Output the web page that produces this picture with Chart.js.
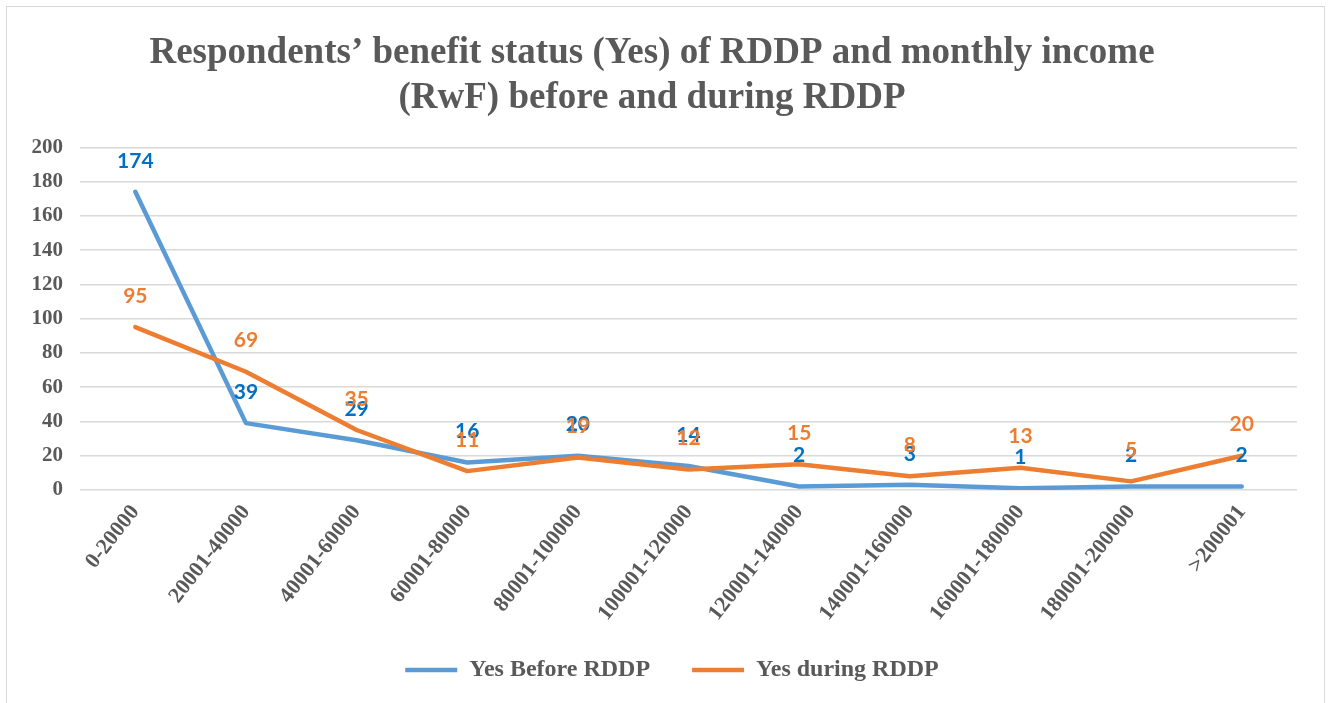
<!DOCTYPE html>
<html>
<head>
<meta charset="utf-8">
<script src="https://cdn.jsdelivr.net/npm/chart.js@4/dist/chart.umd.min.js"></script>
<style>
  html, body { margin: 0; padding: 0; background: #fff; }
  #box {
    position: absolute; left: 6px; top: 6px;
    width: 1319px; height: 703px;
    border: 1px solid #d9d9d9; box-sizing: border-box;
  }
</style>
</head>
<body>
<div id="box"><canvas id="incomeChart"></canvas></div>
<script>
// data
const incomeBands = ["0-20000", "20001-40000", "40001-60000", "60001-80000", "80001-100000",
  "100001-120000", "120001-140000", "140001-160000", "160001-180000", "180001-200000", ">200001"];
const yesBefore = [174, 39, 29, 16, 20, 14, 2, 3, 1, 2, 2];
const yesDuring = [95, 69, 35, 11, 19, 12, 15, 8, 13, 5, 20];
const yTicks = [0, 20, 40, 60, 80, 100, 120, 140, 160, 180, 200];

const grey = "#595959";
const serif = "'Liberation Serif', 'Times New Roman', serif";

// value labels above each point
const pointLabels = {
  id: "pointLabels",
  afterDatasetsDraw(chart) {
    const ctx = chart.ctx;
    ctx.save();
    ctx.font = "bold 21px Lato, 'Open Sans', sans-serif";
    ctx.textAlign = "center";
    ctx.textBaseline = "middle";
    [0, 1].forEach(i => {
      const meta = chart.getDatasetMeta(i);
      ctx.fillStyle = chart.data.datasets[i].labelColor;
      meta.data.forEach((pt, j) => {
        ctx.fillText(chart.data.datasets[i].data[j], pt.x, pt.y - 31);
      });
    });
    ctx.restore();
  }
};

// nudge the legend row to the right so it sits centred like the original
const legendShift = {
  id: "legendShift",
  afterLayout(chart) {
    if (chart.legend) {
      chart.legend.left += 20;
      chart.legend.right += 20;
    }
  }
};

const canvas = document.getElementById("incomeChart");
canvas.width = 1317; canvas.height = 701;

new Chart(canvas.getContext("2d"), {
  type: "line",
  data: {
    labels: incomeBands,
    datasets: [
      {
        label: "Yes Before RDDP  ",
        data: yesBefore,
        borderColor: "#5b9bd5",
        backgroundColor: "#5b9bd5",
        labelColor: "#0070c0",
        borderWidth: 4.5,
        order: 1
      },
      {
        label: "Yes during RDDP",
        data: yesDuring,
        borderColor: "#ed7d31",
        backgroundColor: "#ed7d31",
        labelColor: "#ed7d31",
        borderWidth: 4.5,
        order: 0
      }
    ]
  },
  options: {
    responsive: false,
    animation: false,
    layout: { padding: { left: 0, right: 27, top: 0, bottom: 16 } },
    elements: {
      point: { radius: 0, hoverRadius: 0 },
      line: { tension: 0, borderCapStyle: "round", borderJoinStyle: "round" }
    },
    plugins: {
      title: {
        display: true,
        text: ["Respondents\u2019 benefit status (Yes) of RDDP and monthly income",
               "(RwF) before and during RDDP"],
        color: grey,
        font: { family: serif, size: 37, weight: "bold", lineHeight: 1.22 },
        padding: { top: 24, bottom: 26 }
      },
      legend: {
        position: "bottom",
        labels: {
          usePointStyle: true,
          pointStyle: "line",
          pointStyleWidth: 52,
          color: grey,
          font: { family: serif, size: 24, weight: "bold" },
          padding: 30,
          sort: (a, b) => a.datasetIndex - b.datasetIndex
        }
      },
      tooltip: { enabled: false }
    },
    scales: {
      x: {
        offset: true,
        grid: { display: false },
        border: { display: false },
        ticks: {
          color: grey,
          font: { family: serif, size: 22, weight: "bold" },
          minRotation: 52, maxRotation: 52,
          padding: 2
        }
      },
      y: {
        min: 0, max: 200,
        afterBuildTicks: scale => { scale.ticks = yTicks.map(v => ({ value: v })); },
        afterFit: scale => { scale.width = 73; },
        grid: { color: "#d9d9d9", lineWidth: 1.5, drawTicks: false },
        border: { display: false },
        ticks: {
          color: grey,
          font: { family: serif, size: 21, weight: "bold" },
          padding: 17
        }
      }
    }
  },
  plugins: [pointLabels, legendShift]
});
</script>
</body>
</html>
